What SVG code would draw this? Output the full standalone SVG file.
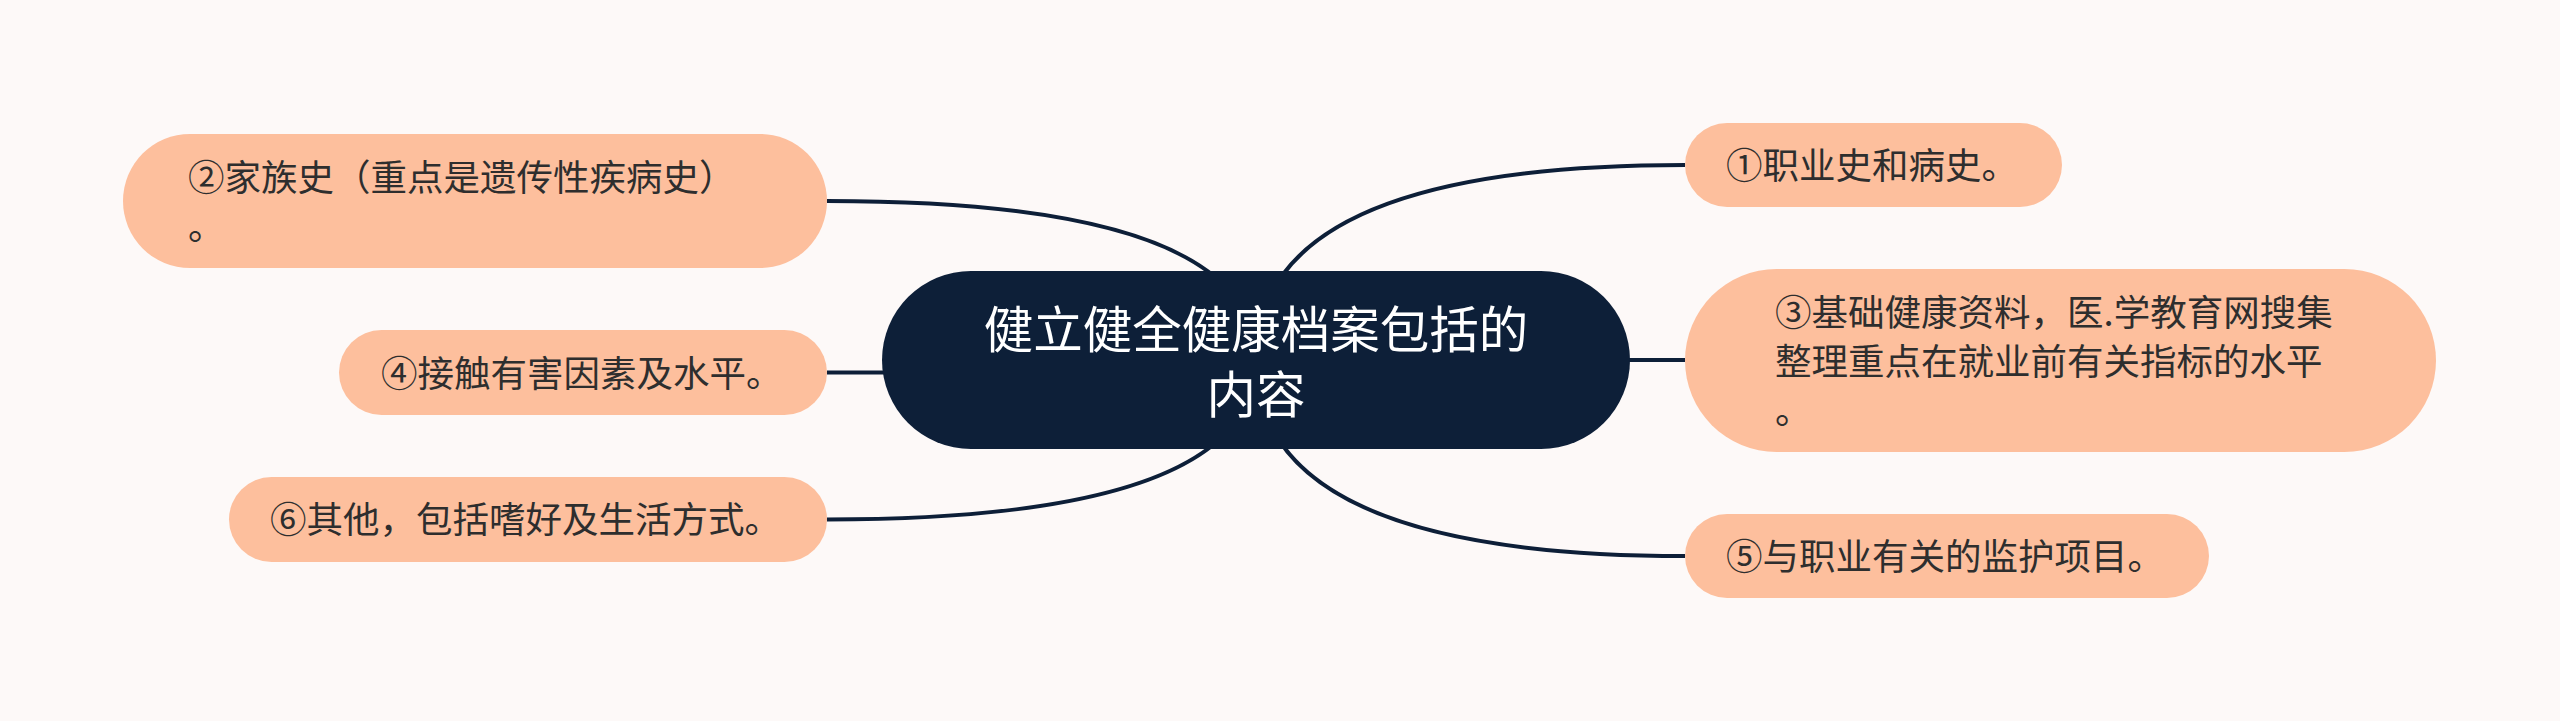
<svg xmlns="http://www.w3.org/2000/svg" width="2560" height="721" viewBox="0 0 2560 721">
<style>
.bg{fill:#fdf9f8}
.link{fill:none;stroke:#0d1f38;stroke-width:4}
.leaf{fill:#fdbf9d}
.root{fill:#0d1f38}
.t{font-family:"Noto Sans CJK SC","Noto Sans",sans-serif;font-size:36.5px;fill:#2e2e2e}
.rt{font-family:"Noto Sans CJK SC","Noto Sans",sans-serif;font-size:49.5px;fill:#ffffff;text-anchor:middle}
</style>
<rect class="bg" x="0" y="0" width="2560" height="721"/>
<g id="connectors">
<path class="link" d="M 827 201 Q 1256 201 1256 360"/>
<path class="link" d="M 827 372.5 Q 1256 372.5 1256 360"/>
<path class="link" d="M 827 519.5 Q 1256 519.5 1256 360"/>
<path class="link" d="M 1685 165 Q 1256 165 1256 360"/>
<path class="link" d="M 1685 360 L 1256 360"/>
<path class="link" d="M 1685 556 Q 1256 556 1256 360"/>
</g>
<g id="root">
<rect class="root" x="882" y="271" width="748" height="178" rx="89"/>
<text class="rt" x="1256" y="348">健立健全健康档案包括的</text>
<text class="rt" x="1256" y="413">内容</text>
</g>
<g id="node1">
<rect class="leaf" x="1685" y="123" width="377" height="84" rx="42"/>
<text class="t" x="1726" y="179">①职业史和病史。</text>
</g>
<g id="node2">
<rect class="leaf" x="123" y="134" width="704" height="134" rx="67"/>
<text class="t" x="188" y="191">②家族史（重点是遗传性疾病史）</text>
<text class="t" x="188" y="240">。</text>
</g>
<g id="node3">
<rect class="leaf" x="1685" y="269" width="751" height="183" rx="91.5"/>
<text class="t" x="1775" y="326">③基础健康资料，医.学教育网搜集</text>
<text class="t" x="1775" y="375">整理重点在就业前有关指标的水平</text>
<text class="t" x="1775" y="424">。</text>
</g>
<g id="node4">
<rect class="leaf" x="339" y="330" width="488" height="85" rx="42.5"/>
<text class="t" x="381" y="387">④接触有害因素及水平。</text>
</g>
<g id="node5">
<rect class="leaf" x="1685" y="514" width="524" height="84" rx="42"/>
<text class="t" x="1726" y="570">⑤与职业有关的监护项目。</text>
</g>
<g id="node6">
<rect class="leaf" x="229" y="477" width="598" height="85" rx="42.5"/>
<text class="t" x="270" y="533">⑥其他，包括嗜好及生活方式。</text>
</g>
</svg>
